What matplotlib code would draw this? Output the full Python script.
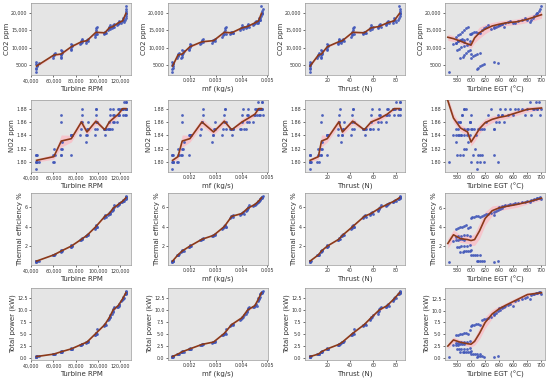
import numpy as np
import pandas as pd
import matplotlib
matplotlib.use('Agg')
import matplotlib.pyplot as plt
from matplotlib.ticker import MultipleLocator, FuncFormatter, FormatStrFormatter

# throttle setpoint of each sample
step = [1]*8 + [2]*5 + [3]*7 + [4]*6 + [5]*6 + [6]*6 + [7]*8 + [8]*6 + [9]*6 + [10]*6 + [11]*6 + [12]*6 + [13]*9

rpm = [43900, 44200, 44500, 44800, 45100, 44300, 44600, 47000,
       59500, 60000, 60300, 60600, 61000,
       66500, 66800, 67000, 67200, 67400, 66900, 67100,
       75500, 75800, 76000, 76200, 76500, 76000,
       84000, 84500, 85000, 85300, 85600, 86000,
       89000, 89500, 90000, 90300, 90600, 91000,
       97000, 97400, 97800, 98000, 98200, 98500, 98800, 99000,
       105000, 105500, 106000, 106300, 106600, 107000,
       109000, 109500, 110000, 110300, 110600, 111000,
       112500, 113000, 113300, 113600, 114000, 114500,
       117000, 117500, 118000, 118400, 118800, 119200,
       121000, 121500, 122000, 122300, 122600, 123000,
       124500, 124800, 125000, 125000, 125200, 125300, 125500, 125000, 124900]

mf = [0.00131, 0.00132, 0.00133, 0.00134, 0.00131, 0.00133, 0.00132, 0.00135,
      0.00150, 0.00152, 0.00155, 0.00153, 0.00157,
      0.00165, 0.00168, 0.00170, 0.00172, 0.00175, 0.00169, 0.00171,
      0.00195, 0.00198, 0.00200, 0.00202, 0.00205, 0.00199,
      0.00240, 0.00243, 0.00245, 0.00248, 0.00250, 0.00252,
      0.00285, 0.00288, 0.00290, 0.00292, 0.00295, 0.00298,
      0.00325, 0.00328, 0.00330, 0.00332, 0.00334, 0.00336, 0.00338, 0.00340,
      0.00355, 0.00358, 0.00360, 0.00362, 0.00365, 0.00368,
      0.00395, 0.00398, 0.00400, 0.00402, 0.00405, 0.00408,
      0.00418, 0.00420, 0.00422, 0.00424, 0.00426, 0.00428,
      0.00445, 0.00448, 0.00450, 0.00452, 0.00455, 0.00458,
      0.00462, 0.00464, 0.00466, 0.00468, 0.00470, 0.00463,
      0.00470, 0.00472, 0.00475, 0.00477, 0.00479, 0.00480, 0.00482, 0.00476, 0.00478]

thrust = [4.6, 4.8, 5.0, 5.2, 5.4, 4.9, 5.1, 5.6,
          11.5, 12.0, 12.3, 12.6, 13.0,
          14.5, 14.8, 15.0, 15.2, 15.5, 14.9, 15.1,
          19.5, 19.8, 20.0, 20.3, 20.6, 20.1,
          29.0, 29.5, 30.0, 30.3, 30.6, 31.0,
          32.0, 32.5, 33.0, 33.5, 34.0, 34.5,
          41.0, 41.5, 42.0, 42.0, 42.3, 42.5, 43.0, 43.3,
          51.0, 51.5, 52.0, 52.5, 53.0, 53.5,
          57.0, 57.5, 58.0, 58.5, 59.0, 59.5,
          64.0, 64.5, 65.0, 65.5, 66.0, 66.5,
          71.0, 71.5, 72.0, 72.5, 73.0, 73.5,
          77.0, 77.5, 78.0, 78.5, 79.0, 79.5,
          82.0, 82.5, 83.0, 83.0, 83.3, 83.5, 83.8, 82.8, 83.2]

egt = [568, 608, 610, 612, 615, 618, 632, 638,
       600, 603, 606, 609, 612,
       585, 588, 590, 593, 596, 598, 600,
       580, 583, 586, 590, 594, 598,
       575, 578, 581, 584, 587, 590,
       578, 582, 586, 590, 594, 598,
       578, 581, 584, 587, 590, 593, 596, 599,
       600, 602, 604, 607, 610, 613,
       615, 618, 621, 624, 628, 632,
       632, 635, 638, 641, 644, 647,
       640, 644, 648, 652, 656, 660,
       662, 667, 672, 676, 680, 684,
       685, 688, 690, 692, 694, 696, 698, 700, 693]

co2 = [3200, 3900, 4300, 4700, 5100, 5500, 6000, 5800,
       7200, 7600, 8000, 8300, 8600,
       7000, 7500, 8000, 8500, 9000, 9500, 8200,
       9500, 9800, 10200, 10500, 10800, 11000,
       11000, 11400, 11800, 12100, 12400, 11600,
       11500, 11800, 12100, 12300, 12500, 12000,
       13000, 13500, 14000, 14500, 15000, 15500, 16000, 13800,
       14000, 14200, 14400, 14600, 14300, 14100,
       15000, 15500, 16000, 16500, 15200, 15800,
       15500, 15800, 16100, 16400, 16700, 15900,
       16500, 16800, 17100, 17400, 17700, 17000,
       17000, 17500, 18000, 18500, 17800, 17200,
       18000, 18500, 19000, 19500, 20000, 20500, 21000, 21800, 19800]

no2 = [1.80, 1.79, 1.81, 1.80, 1.81, 1.80, 1.81, 1.80,
       1.80, 1.81, 1.82, 1.80, 1.81,
       1.81, 1.81, 1.82, 1.82, 1.83, 1.86, 1.87,
       1.81, 1.84, 1.84, 1.84, 1.84, 1.84,
       1.84, 1.85, 1.86, 1.86, 1.87, 1.88,
       1.83, 1.84, 1.84, 1.85, 1.85, 1.86,
       1.84, 1.85, 1.86, 1.87, 1.88, 1.88, 1.85, 1.86,
       1.85, 1.85, 1.85, 1.84, 1.85, 1.85,
       1.85, 1.85, 1.86, 1.87, 1.88, 1.85,
       1.85, 1.86, 1.87, 1.88, 1.87, 1.86,
       1.86, 1.87, 1.88, 1.87, 1.88, 1.87,
       1.88, 1.88, 1.88, 1.87, 1.88, 1.89,
       1.87, 1.88, 1.88, 1.89, 1.88, 1.89, 1.87, 1.88, 1.88]

eff = [0.40, 0.45, 0.50, 0.48, 0.52, 0.46, 0.42, 0.50,
       1.05, 1.10, 1.12, 1.08, 1.15,
       1.40, 1.45, 1.50, 1.55, 1.48, 1.52, 1.60,
       1.90, 1.95, 2.00, 2.05, 2.00, 2.10,
       2.60, 2.65, 2.70, 2.75, 2.80, 2.70,
       3.00, 3.05, 3.10, 3.15, 3.20, 3.10,
       3.80, 3.90, 4.00, 4.05, 4.10, 4.20, 3.95, 4.00,
       4.90, 5.00, 5.05, 5.10, 5.20, 5.00,
       5.20, 5.30, 5.35, 5.40, 5.50, 5.30,
       5.60, 5.70, 5.80, 5.90, 6.00, 6.20,
       6.10, 6.20, 6.25, 6.30, 6.35, 6.40,
       6.50, 6.55, 6.60, 6.65, 6.70, 6.60,
       6.80, 6.85, 6.90, 6.95, 7.00, 7.05, 7.10, 6.90, 7.00]

power = [0.25, 0.28, 0.30, 0.32, 0.30, 0.27, 0.29, 0.31,
         0.75, 0.80, 0.82, 0.85, 0.80,
         1.20, 1.25, 1.30, 1.35, 1.30, 1.28, 1.40,
         1.80, 1.85, 1.90, 1.95, 1.90, 2.00,
         2.70, 2.75, 2.80, 2.85, 2.90, 3.00,
         3.20, 3.25, 3.30, 3.35, 3.40, 3.50,
         4.80, 4.90, 5.00, 5.10, 5.20, 5.30, 5.00, 6.00,
         6.80, 6.90, 7.00, 7.10, 7.20, 7.00,
         8.00, 8.20, 8.30, 8.50, 8.70, 9.00,
         9.30, 9.60, 9.90, 10.20, 10.50, 10.80,
         10.60, 10.80, 11.00, 11.20, 11.40, 11.00,
         12.00, 12.20, 12.40, 12.60, 12.80, 12.50,
         13.40, 13.50, 13.60, 13.70, 13.80, 13.90, 14.00, 13.60, 13.80]

# smoothed trend against EGT
egt_grid = [567, 575, 585, 595, 600, 605, 612, 620, 630, 640, 650, 665, 680, 700]
co2_trend = [13000, 12600, 11900, 11100, 10800, 12800, 14300, 15300, 16200, 16700, 17100, 17400, 18100, 19400]
co2_band = [900, 800, 700, 800, 900, 1400, 1600, 1300, 1000, 900, 800, 800, 900, 1000]
no2_trend = [1.892, 1.866, 1.851, 1.845, 1.830, 1.838, 1.850, 1.859, 1.864, 1.867, 1.869, 1.874, 1.879, 1.881]
no2_band = [0.006, 0.007, 0.005, 0.005, 0.006, 0.007, 0.007, 0.006, 0.005, 0.004, 0.004, 0.004, 0.004, 0.003]
eff_trend = [2.3, 3.2, 2.8, 2.7, 2.6, 2.7, 3.6, 4.9, 5.7, 6.0, 6.15, 6.35, 6.6, 7.0]
eff_band = [0.5, 0.5, 0.4, 0.4, 0.5, 0.6, 0.8, 0.7, 0.5, 0.3, 0.3, 0.3, 0.2, 0.2]
pow_trend = [2.5, 3.8, 3.3, 3.0, 2.9, 3.5, 5.2, 7.5, 9.3, 10.4, 11.2, 12.3, 13.4, 13.8]
pow_band = [0.6, 0.6, 0.5, 0.5, 0.6, 0.8, 1.2, 1.2, 0.9, 0.6, 0.5, 0.5, 0.4, 0.3]

df = pd.DataFrame({'step': step, 'rpm': rpm, 'mf': mf, 'thrust': thrust, 'egt': egt,
                   'co2': co2, 'no2': no2, 'eff': eff, 'power': power})

xcols = ['rpm', 'mf', 'thrust', 'egt']
xlabels = ['Turbine RPM', 'mf (kg/s)', 'Thrust (N)', 'Turbine EGT (°C)']
ycols = ['co2', 'no2', 'eff', 'power']
ylabels = ['CO2 ppm', 'NO2 ppm', 'Thermal efficiency %', 'Total power (kW)']
egt_trends = {'co2': (co2_trend, co2_band), 'no2': (no2_trend, no2_band),
              'eff': (eff_trend, eff_band), 'power': (pow_trend, pow_band)}


def comma(x, pos):
    return f'{x:,.0f}' if abs(x) >= 10000 else f'{x:.0f}'


xfmt = {'rpm': (20000, FuncFormatter(lambda x, p: f'{x:,.0f}')),
        'mf': (0.001, FormatStrFormatter('%.3f')),
        'thrust': (20, FormatStrFormatter('%d')),
        'egt': (20, FormatStrFormatter('%d'))}
yfmt = {'co2': (5000, FuncFormatter(comma)),
        'no2': (0.02, FormatStrFormatter('%.2f')),
        'eff': (2, FormatStrFormatter('%d')),
        'power': (2.5, FormatStrFormatter('%.1f'))}

W, H = 550, 381
lefts = [31, 168, 305, 445]
tops = [3, 100, 193, 288]
aw, ah = 100, 72

fig = plt.figure(figsize=(5.5, 3.81), dpi=100)
pt_color = '#3f55b8'
line_color = '#8b3a1a'
band_color = '#f6c5cc'

for i, yc in enumerate(ycols):
    for j, xc in enumerate(xcols):
        ax = fig.add_axes([lefts[j] / W, 1 - (tops[i] + ah) / H, aw / W, ah / H])
        ax.set_facecolor('#e5e5e5')
        if xc == 'egt':
            tr, bd = egt_trends[yc]
            tr, bd = np.array(tr), np.array(bd)
            lx, ly, lo, hi = np.array(egt_grid), tr, tr - bd, tr + bd
        else:
            g = df.groupby('step')
            lx = g[xc].mean().values
            ly = g[yc].mean().values
            ci = g[yc].std().values / np.sqrt(g[yc].count().values)
            lo, hi = ly - ci, ly + ci
        ax.fill_between(lx, lo, hi, color=band_color, lw=0, zorder=1)
        ax.scatter(df[xc], df[yc], s=4, color=pt_color, alpha=0.9, lw=0, zorder=2)
        ax.plot(lx, ly, color=line_color, lw=1.2, zorder=3)

        ax.xaxis.set_major_locator(MultipleLocator(xfmt[xc][0]))
        ax.xaxis.set_major_formatter(xfmt[xc][1])
        ax.yaxis.set_major_locator(MultipleLocator(yfmt[yc][0]))
        ax.yaxis.set_major_formatter(yfmt[yc][1])
        ax.tick_params(labelsize=3.4, length=1.5, width=0.5, pad=1, colors='#333333')
        for s in ax.spines.values():
            s.set_color('#999999')
            s.set_linewidth(0.5)
        ax.set_xlabel(xlabels[j], fontsize=5, labelpad=1.5, color='#333333')
        ax.set_ylabel(ylabels[i], fontsize=5, labelpad=1, color='#333333')
        if yc == 'no2':
            ax.set_ylim(1.785, 1.893)
        if xc == 'egt':
            ax.set_xlim(563, 705)
        if xc == 'mf':
            ax.set_xlim(0.00115, 0.00502)

fig.savefig('out.png', dpi=100)
